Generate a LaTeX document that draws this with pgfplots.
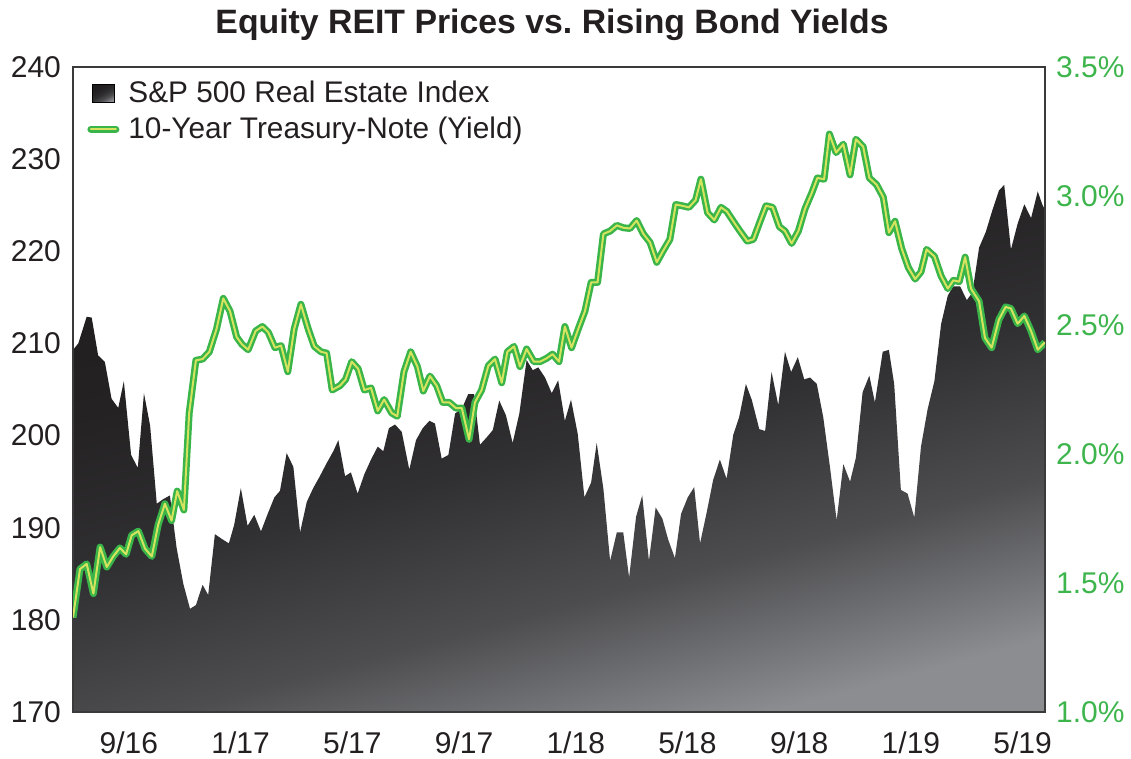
\documentclass[border=0pt]{standalone}
\usepackage{pgfplots}
\pgfplotsset{compat=1.18}
\usepackage{fontspec}
\setmainfont{Liberation Sans}
\definecolor{txt}{HTML}{231F20}
\definecolor{gout}{HTML}{39B54A}
\definecolor{gin}{HTML}{D5E35F}
\definecolor{glab}{HTML}{3DB54C}
\definecolor{framec}{HTML}{3A3A3A}
\definecolor{s1}{HTML}{201D1E}
\definecolor{s2}{HTML}{242223}
\definecolor{s3}{HTML}{302F31}
\definecolor{s4}{HTML}{4D4D50}
\definecolor{s5}{HTML}{8C8D91}
\pgfdeclareverticalshading{reit}{100bp}{color(0bp)=(s5); color(25bp)=(s5); color(37.5bp)=(s4); color(50bp)=(s3); color(62.5bp)=(s2); color(75bp)=(s1); color(100bp)=(s1)}
\pgfplotsset{
  arealeg/.style={legend image code/.code={\shade[shading=reit, shading angle=30] (1.5pt,-4.5pt) rectangle (12.5pt,4.5pt);}},
  lineleg/.style={legend image code/.code={\draw[##1, line cap=round] (0.5pt,0pt) -- (13pt,0pt);}},
}

\pgfplotstableread{
x y
-2.00 170
-2.00 209.3
-1.81 210.0
-1.51 212.9
-1.33 212.8
-1.10 208.7
-0.86 208.0
-0.62 204.0
-0.38 203.0
-0.18 205.9
0.08 197.9
0.32 196.5
0.54 204.6
0.76 201.1
1.00 192.6
1.23 193.1
1.47 193.5
1.71 187.8
1.95 183.9
2.19 181.2
2.40 181.6
2.64 183.8
2.84 182.7
3.08 189.3
3.32 188.8
3.58 188.3
3.77 190.3
4.01 194.3
4.25 190.2
4.49 191.4
4.73 189.6
4.97 191.5
5.21 193.3
5.41 194.0
5.65 198.1
5.89 196.6
6.13 189.5
6.37 192.8
6.60 194.3
6.84 195.6
7.08 197.0
7.32 198.3
7.50 199.5
7.74 195.6
7.95 196.0
8.19 193.7
8.43 195.8
8.67 197.4
8.91 198.8
9.11 198.3
9.31 200.8
9.53 201.2
9.77 200.4
10.04 196.3
10.28 199.5
10.52 200.8
10.76 201.6
10.96 201.3
11.20 197.5
11.44 197.9
11.68 202.4
11.92 202.9
12.15 204.5
12.36 204.5
12.57 199.0
12.81 199.8
13.03 200.6
13.26 203.8
13.50 202.2
13.74 199.2
13.98 202.4
14.24 208.2
14.46 207.1
14.66 207.4
14.90 206.3
15.14 204.6
15.37 206.0
15.61 201.6
15.83 203.9
16.07 200.2
16.31 193.3
16.55 194.9
16.75 199.2
16.99 194.2
17.23 186.4
17.47 189.5
17.70 189.5
17.91 184.6
18.16 191.2
18.38 193.5
18.62 186.4
18.86 192.2
19.10 191.0
19.31 188.7
19.55 186.7
19.77 191.5
20.01 193.3
20.24 194.4
20.45 188.3
20.69 191.7
20.92 195.2
21.16 197.4
21.40 195.3
21.64 200.1
21.85 202.0
22.09 205.6
22.30 203.9
22.57 200.7
22.78 200.5
23.01 206.9
23.25 203.3
23.49 209.1
23.71 206.9
23.95 208.5
24.18 206.1
24.39 206.3
24.63 205.6
24.86 202.0
25.10 196.6
25.34 190.8
25.58 196.9
25.82 195.0
26.03 197.6
26.27 204.7
26.51 206.5
26.71 203.6
26.99 209.1
27.21 209.3
27.40 205.6
27.64 194.1
27.88 193.7
28.12 191.1
28.36 198.8
28.60 202.9
28.84 205.9
29.08 212.1
29.32 215.2
29.52 216.2
29.76 216.2
30.00 214.7
30.20 215.5
30.44 220.4
30.68 222.1
30.91 224.4
31.15 226.6
31.34 227.2
31.58 220.2
31.82 223.0
32.06 225.1
32.30 223.6
32.54 226.5
32.70 225.1
32.80 224.5
32.80 170
}\reitdata

\pgfplotstableread{
x y
-2.00 1.366
-1.75 1.554
-1.51 1.574
-1.27 1.459
-1.03 1.639
-0.79 1.562
-0.56 1.603
-0.32 1.636
-0.10 1.611
0.10 1.685
0.34 1.701
0.58 1.633
0.82 1.603
1.05 1.726
1.29 1.807
1.53 1.742
1.73 1.856
1.97 1.783
2.16 2.159
2.40 2.363
2.64 2.368
2.88 2.396
3.14 2.485
3.38 2.603
3.62 2.554
3.86 2.453
4.05 2.425
4.27 2.404
4.54 2.477
4.78 2.494
4.99 2.472
5.23 2.412
5.45 2.420
5.69 2.319
5.92 2.485
6.16 2.580
6.42 2.485
6.64 2.417
6.88 2.396
7.08 2.391
7.28 2.248
7.56 2.265
7.76 2.289
7.98 2.358
8.21 2.330
8.43 2.248
8.67 2.256
8.91 2.167
9.14 2.211
9.41 2.159
9.61 2.146
9.85 2.319
10.09 2.396
10.33 2.339
10.54 2.244
10.78 2.302
11.02 2.265
11.24 2.200
11.47 2.200
11.71 2.178
11.92 2.178
12.18 2.057
12.39 2.200
12.63 2.248
12.87 2.342
13.11 2.368
13.35 2.276
13.55 2.396
13.79 2.417
14.00 2.339
14.24 2.407
14.50 2.358
14.72 2.358
14.96 2.371
15.17 2.387
15.40 2.358
15.61 2.494
15.85 2.412
16.09 2.485
16.33 2.554
16.55 2.665
16.78 2.665
16.99 2.853
17.23 2.864
17.47 2.886
17.70 2.877
17.94 2.874
18.18 2.905
18.42 2.853
18.66 2.820
18.90 2.743
19.13 2.788
19.37 2.832
19.58 2.967
19.81 2.962
20.05 2.956
20.29 2.984
20.48 3.065
20.72 2.935
20.96 2.907
21.20 2.956
21.41 2.940
21.64 2.902
21.88 2.864
22.14 2.825
22.36 2.832
22.60 2.902
22.81 2.962
23.05 2.956
23.29 2.881
23.49 2.864
23.73 2.816
23.97 2.864
24.21 2.951
24.45 3.012
24.65 3.070
24.89 3.065
25.08 3.240
25.32 3.168
25.58 3.201
25.82 3.082
26.03 3.220
26.29 3.191
26.51 3.070
26.77 3.044
27.01 2.995
27.21 2.858
27.43 2.902
27.67 2.796
27.91 2.722
28.15 2.678
28.36 2.706
28.56 2.793
28.84 2.766
29.08 2.690
29.32 2.641
29.52 2.673
29.73 2.668
29.94 2.763
30.15 2.641
30.44 2.592
30.65 2.450
30.89 2.412
31.15 2.521
31.39 2.570
31.58 2.564
31.82 2.505
32.06 2.535
32.30 2.477
32.54 2.404
32.80 2.433
}\yielddata

\begin{document}
\begin{tikzpicture}
\useasboundingbox (-36.5pt,-23.5pt) rectangle (529pt,356pt);
\begin{axis}[
  at={(0,0)}, anchor=south west,
  width=486pt, height=322.5pt, scale only axis,
  xmin=-2, xmax=32.8, ymin=170, ymax=240,
  xtick={0,4,...,32},
  xticklabels={9/16,1/17,5/17,9/17,1/18,5/18,9/18,1/19,5/19},
  ytick={170,180,...,240},
  major tick length=0pt,
  axis line style={draw=framec, line width=1.2pt},
  axis on top,
  /pgf/number format/assume math mode=true,
  /pgf/number format/1000 sep={},
  tick label style={font=\fontsize{15}{17}\selectfont, text=txt},
  yticklabel style={xshift=-2.5pt},
  xticklabel style={yshift=-6.5pt},
]
\addplot[shade, shading=reit, shading angle=15, draw=none] table[x=x,y=y] {\reitdata};
\end{axis}
\begin{axis}[
  at={(0,0)}, anchor=south west,
  width=486pt, height=322.5pt, scale only axis,
  xmin=-2, xmax=32.8, ymin=1, ymax=3.5,
  hide x axis,
  axis y line*=right,
  y axis line style={draw=none},
  ytick={1,1.5,...,3.5},
  major tick length=0pt,
  /pgf/number format/assume math mode=true,
  yticklabel={\pgfmathprintnumber[fixed,fixed zerofill,precision=1]{\tick}\%},
  yticklabel style={font=\fontsize{15}{17}\selectfont, text=glab, xshift=2pt},
  legend style={at={(0,1)}, anchor=north west, xshift=4pt, yshift=-3pt,
    draw=none, fill=none, font=\fontsize{14.9}{17}\selectfont, text=txt,
    row sep=1.5pt, column sep=2.5pt},
  legend cell align=left,
]
\addlegendimage{arealeg}
\addlegendentry{S\&P 500 Real Estate Index}
\addplot[draw=gout, line width=1.25pt, double=gin, double distance=1pt, line join=round, lineleg]
  table[x=x,y=y] {\yielddata};
\addlegendentry{10-Year Treasury-Note (Yield)}
\end{axis}
\node[anchor=base, font=\bfseries\fontsize{16.9}{19}\selectfont, text=txt] at (239.5pt,339pt) {Equity REIT Prices vs.\ Rising Bond Yields};
\end{tikzpicture}
\end{document}
